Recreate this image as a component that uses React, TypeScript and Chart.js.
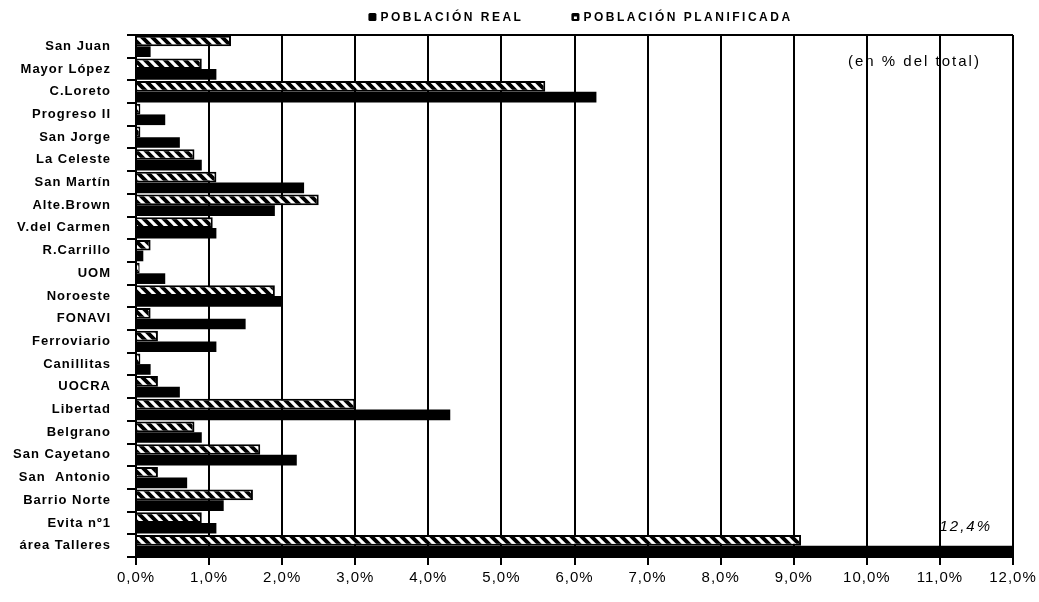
import React, { useEffect, useRef } from "react";
import { Chart, registerables } from "chart.js";

Chart.register(...registerables);

const categories = [
  "San Juan",
  "Mayor López",
  "C.Loreto",
  "Progreso II",
  "San Jorge",
  "La Celeste",
  "San Martín",
  "Alte.Brown",
  "V.del Carmen",
  "R.Carrillo",
  "UOM",
  "Noroeste",
  "FONAVI",
  "Ferroviario",
  "Canillitas",
  "UOCRA",
  "Libertad",
  "Belgrano",
  "San Cayetano",
  "San  Antonio",
  "Barrio Norte",
  "Evita nº1",
  "área Talleres",
];

const plannedValues = [
  1.3, 0.9, 5.6, 0.06, 0.06, 0.8, 1.1, 2.5, 1.05, 0.2, 0.05, 1.9, 0.2, 0.3,
  0.06, 0.3, 3.0, 0.8, 1.7, 0.3, 1.6, 0.9, 9.1,
];

const realValues = [
  0.2, 1.1, 6.3, 0.4, 0.6, 0.9, 2.3, 1.9, 1.1, 0.1, 0.4, 2.0, 1.5, 1.1, 0.2,
  0.6, 4.3, 0.9, 2.2, 0.7, 1.2, 1.1, 12.4,
];

const seriesNames = ["POBLACIÓN REAL", "POBLACIÓN PLANIFICADA"];
const axisMin = 0;
const axisMax = 12;
const axisStep = 1;
const unitNote = "(en % del total)";
const overflowLabel = "12,4%";

const FONT = "'Liberation Sans', Arial, Helvetica, sans-serif";

function makeHatch(ctx: CanvasRenderingContext2D) {
  const s = 10;
  const c = document.createElement("canvas");
  c.width = s;
  c.height = s;
  const g = c.getContext("2d") as CanvasRenderingContext2D;
  g.fillStyle = "#000";
  g.fillRect(0, 0, s, s);
  g.strokeStyle = "#fff";
  g.lineWidth = 3.2;
  g.beginPath();
  g.moveTo(-2, -2);
  g.lineTo(s + 2, s + 2);
  g.moveTo(s - 2, -2);
  g.lineTo(s + 2, 2);
  g.moveTo(-2, s - 2);
  g.lineTo(2, s + 2);
  g.stroke();
  return ctx.createPattern(c, "repeat") as CanvasPattern;
}

const spacingPlugin = {
  id: "letterSpacing",
  beforeLayout(chart: any) {
    chart.ctx.letterSpacing = "1px";
  },
  beforeDraw(chart: any) {
    chart.ctx.letterSpacing = "1px";
  },
};

const decorPlugin = {
  id: "decor",
  afterDraw(chart: any) {
    const ctx: CanvasRenderingContext2D = chart.ctx;
    const area = chart.chartArea;
    const xs = chart.scales.x;
    const ys = chart.scales.y;
    ctx.save();

    // legend
    ctx.font = `bold 12px ${FONT}`;
    (ctx as any).letterSpacing = "2.5px";
    ctx.textBaseline = "middle";
    ctx.textAlign = "left";
    const box = 8;
    const gap = 4;
    const itemGap = 48;
    const w0 = ctx.measureText(seriesNames[0]).width;
    const w1 = ctx.measureText(seriesNames[1]).width;
    const total = box + gap + w0 + itemGap + box + gap + w1;
    let x = (area.left + area.right) / 2 - total / 2 + 6;
    const ly = 17;
    ctx.fillStyle = "#000";
    ctx.beginPath();
    (ctx as any).roundRect(x, ly - box / 2, box, box, 1.5);
    ctx.fill();
    ctx.fillText(seriesNames[0], x + box + gap, ly + 0.5);
    x += box + gap + w0 + itemGap;
    ctx.beginPath();
    (ctx as any).roundRect(x, ly - box / 2, box, box, 1.5);
    ctx.fill();
    ctx.fillStyle = "#fff";
    ctx.fillRect(x + 2.5, ly - 0.5, 3, 2.5);
    ctx.fillStyle = "#000";
    ctx.fillText(seriesNames[1], x + box + gap, ly + 0.5);

    // unit note
    ctx.font = `15px ${FONT}`;
    (ctx as any).letterSpacing = "2px";
    ctx.fillText(unitNote, area.right - 165, area.top + 27);

    // overflow label
    ctx.font = `italic 15px ${FONT}`;
    ctx.textAlign = "right";
    ctx.fillText(
      overflowLabel,
      xs.getPixelForValue(axisMax) - 21,
      ys.getPixelForValue(categories.length - 1) - 19
    );
    ctx.restore();
  },
};

export default function App() {
  const ref = useRef<HTMLCanvasElement | null>(null);

  useEffect(() => {
    document.body.style.margin = "0";
    const canvas = ref.current!;
    const ctx = canvas.getContext("2d") as CanvasRenderingContext2D;
    const hatch = makeHatch(ctx);

    const chart = new Chart(canvas, {
      type: "bar",
      data: {
        labels: categories,
        datasets: [
          {
            label: seriesNames[1],
            data: plannedValues,
            backgroundColor: hatch,
            borderColor: "#000",
            borderWidth: 2,
            categoryPercentage: 0.94,
            barPercentage: 1.0,
          },
          {
            label: seriesNames[0],
            data: realValues,
            backgroundColor: "#000",
            borderWidth: 0,
            categoryPercentage: 0.94,
            barPercentage: 1.0,
          },
        ],
      },
      options: {
        indexAxis: "y",
        responsive: false,
        animation: false,
        devicePixelRatio: 1,
        layout: { padding: { top: 35, right: 26, bottom: 0, left: 0 } },
        plugins: {
          legend: { display: false },
          tooltip: { enabled: false },
        },
        scales: {
          x: {
            type: "linear",
            min: axisMin,
            max: axisMax,
            ticks: {
              stepSize: axisStep,
              color: "#000",
              font: { family: FONT, size: 15 },
              padding: 4,
              callback: (v: any) =>
                Number(v).toFixed(1).replace(".", ",") + "%",
            },
            grid: {
              color: "#000",
              lineWidth: 2,
              tickLength: 8,
              tickColor: "#000",
            },
            border: { display: true, color: "#000", width: 2 },
            afterFit: (s: any) => {
              s.height = 45;
              s.paddingLeft = 0;
              s.paddingRight = 0;
            },
          },
          y: {
            type: "category",
            ticks: {
              autoSkip: false,
              color: "#000",
              font: { family: FONT, size: 13, weight: "bold" },
              padding: 16,
            },
            grid: {
              offset: true,
              drawOnChartArea: true,
              color: (c: any) => (c.index === 0 ? "#000" : "rgba(0,0,0,0)"),
              tickColor: "#000",
              lineWidth: 2,
              tickLength: 9,
            },
            border: { display: true, color: "#000", width: 2 },
            afterFit: (s: any) => {
              s.width = 136;
              s.paddingTop = 0;
              s.paddingBottom = 0;
            },
          },
        },
      } as any,
      plugins: [spacingPlugin, decorPlugin],
    });

    return () => chart.destroy();
  }, []);

  return (
    <canvas
      ref={ref}
      width={1039}
      height={602}
      style={{ display: "block", width: 1039, height: 602 }}
    />
  );
}
